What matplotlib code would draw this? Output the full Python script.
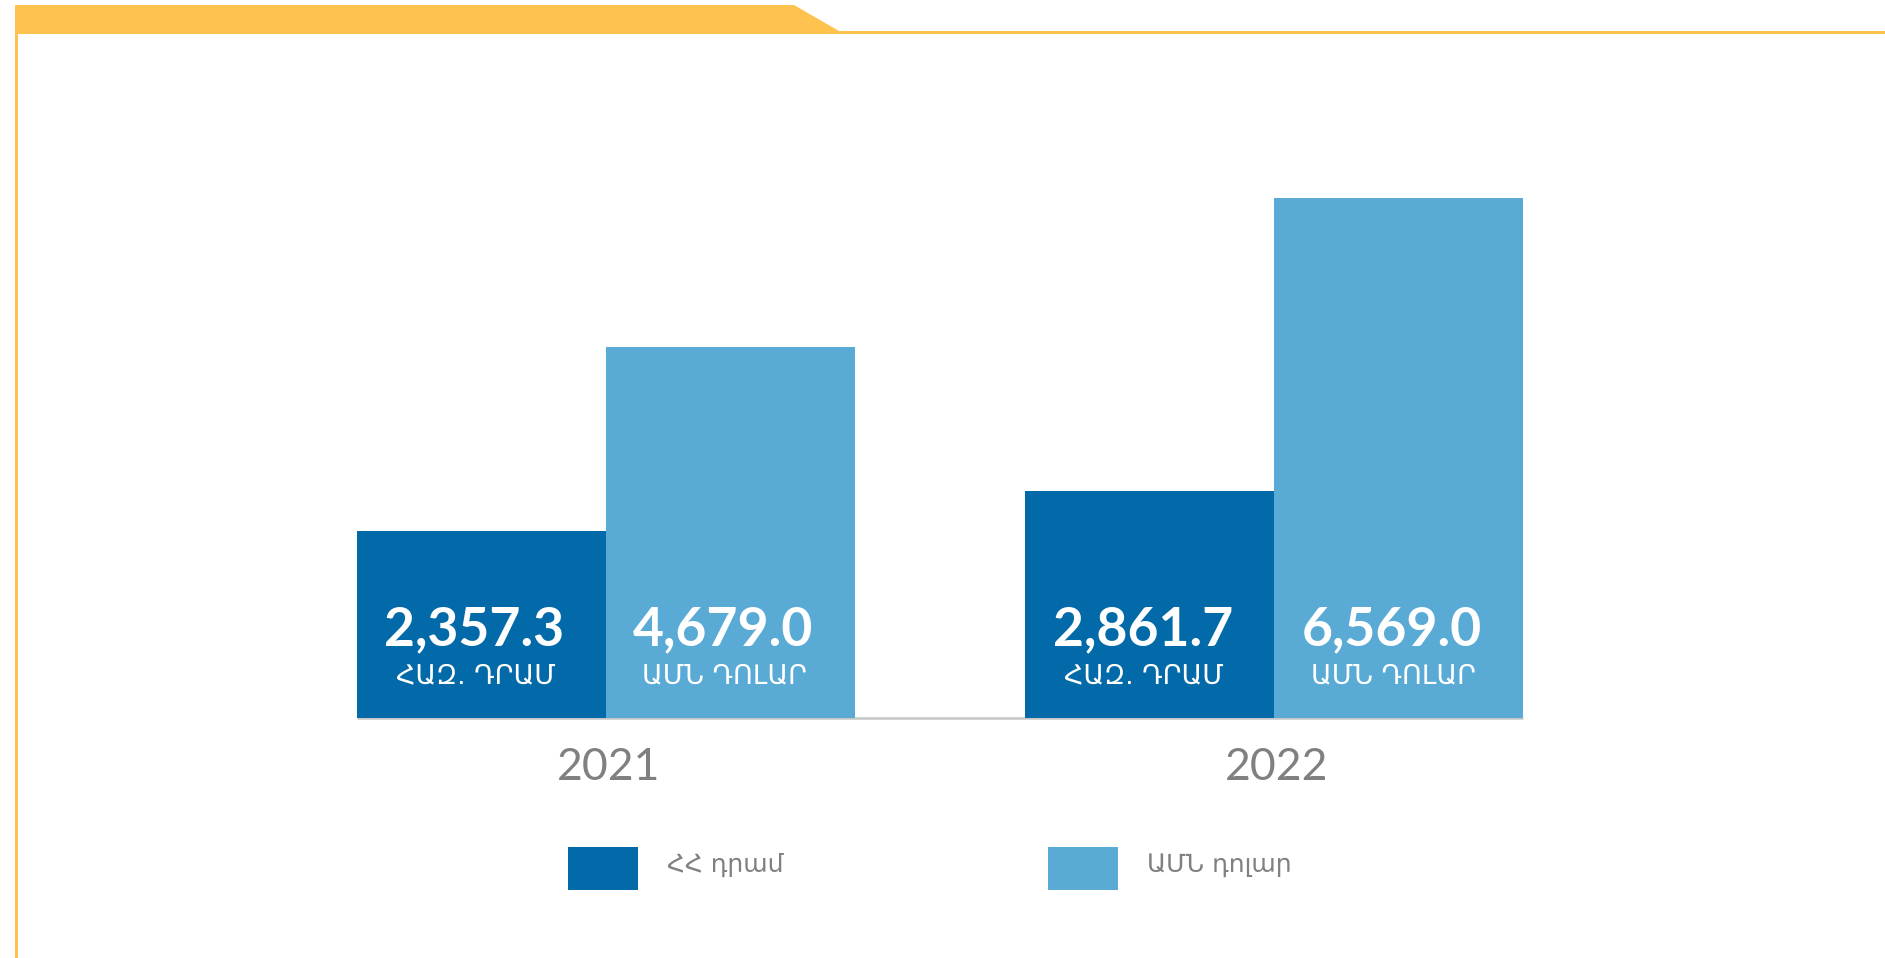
import matplotlib
matplotlib.use("Agg")
import matplotlib.pyplot as plt
import numpy as np
from matplotlib.patches import Polygon, Rectangle

# ---- data ----
years = ["2021", "2022"]
amd_values = [2357.3, 2861.7]      # thousand AMD
usd_values = [4679.0, 6569.0]      # USD
amd_unit = "ՀԱԶ. ԴՐԱՄ"
usd_unit = "ԱՄՆ ԴՈԼԱՐ"
legend_labels = ["ՀՀ դրամ", "ԱՄՆ դոլար"]

# ---- style ----
W, H = 1885, 958
DPI = 100
c_dark = "#036AAA"
c_light = "#59AAD5"
c_yellow = "#FEC34E"
c_gray = "#808080"

fig = plt.figure(figsize=(W / DPI, H / DPI), dpi=DPI)
fig.patch.set_facecolor("white")

def fx(px):
    return px / W

def fy(py):
    return 1 - py / H

# decorative yellow frame
band = Polygon([(fx(15), fy(5)), (fx(794), fy(5)), (fx(839), fy(31)),
                (fx(W), fy(31)), (fx(W), fy(34)), (fx(15), fy(34))],
               closed=True, transform=fig.transFigure, facecolor=c_yellow,
               edgecolor="none")
fig.add_artist(band)
fig.add_artist(Rectangle((fx(15), fy(H)), fx(3), fy(31) - fy(H),
                         transform=fig.transFigure, facecolor=c_yellow,
                         edgecolor="none"))

# axes placement
bw = 249 / 669.0
ymax = 7000
ax_h_px = ymax * 0.0792
base_px = 718
left_px, right_px = 357, 1523
ax = fig.add_axes([fx(left_px), (H - base_px) / H,
                   (right_px - left_px) / W, ax_h_px / H])
ax.set_xlim(-bw, 1 + bw)
ax.set_ylim(0, ymax)
ax.axis("off")

x = np.arange(len(years))
b1 = ax.bar(x - bw / 2, amd_values, width=bw, color=c_dark, zorder=2, linewidth=0)
b2 = ax.bar(x + bw / 2, usd_values, width=bw, color=c_light, zorder=2, linewidth=0)
ax.plot([-bw, 1 + bw], [0, 0], color="#c6c6c6", lw=1.8, zorder=1,
        solid_capstyle="butt", clip_on=False)

tr = ax.get_xaxis_transform()
pt = 72.0 / DPI
for i in range(len(years)):
    for xc, v, unit in [(x[i] - bw / 2, amd_values[i], amd_unit),
                        (x[i] + bw / 2, usd_values[i], usd_unit)]:
        ax.annotate(f"{v:,.1f}", xy=(xc, 0), xycoords=tr,
                    xytext=(-5, 73 * pt), textcoords="offset points",
                    ha="center", va="baseline", color="white",
                    fontsize=38.5, fontweight="bold", family=["Lato", "DejaVu Sans"],
                    zorder=3)
        ax.annotate(unit, xy=(xc, 0), xycoords=tr,
                    xytext=(-4, 35 * pt), textcoords="offset points",
                    ha="center", va="baseline", color="white",
                    fontsize=19.5, family=["DejaVu Sans"], zorder=3)
    ax.annotate(years[i], xy=(x[i], 0), xycoords=tr,
                xytext=(2, -62 * pt), textcoords="offset points",
                ha="center", va="baseline", color=c_gray,
                fontsize=32, family=["Lato", "DejaVu Sans"])

# legend (manual, matching reference placement)
for (sx, tx), col, lab in zip([(568, 667), (1048, 1147)], [c_dark, c_light], legend_labels):
    fig.add_artist(Rectangle((fx(sx), fy(890)), fx(70), fy(847) - fy(890),
                             transform=fig.transFigure, facecolor=col,
                             edgecolor="none"))
    fig.text(fx(tx), fy(872), lab, ha="left", va="baseline", color=c_gray,
             fontsize=18, family=["DejaVu Sans"])

fig.savefig("out.png", dpi=DPI, facecolor="white")
